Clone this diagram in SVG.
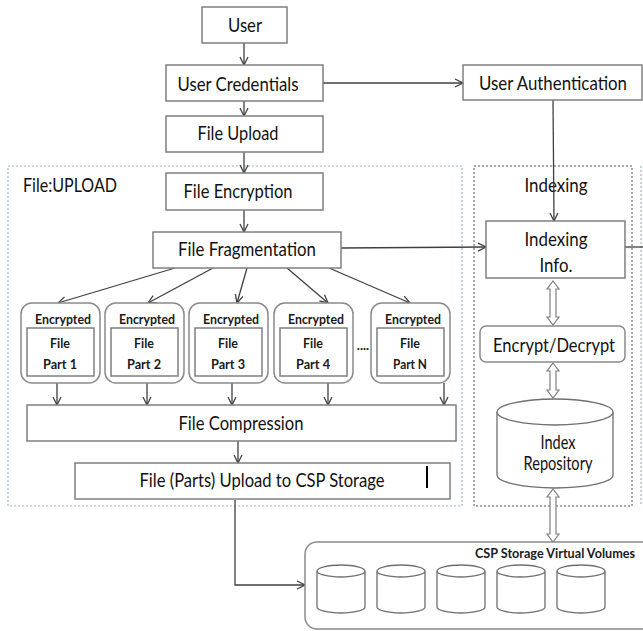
<svg xmlns="http://www.w3.org/2000/svg" width="643" height="631" viewBox="0 0 643 631">
<style>
.box{fill:#fff;stroke:#7f7f7f;stroke-width:1.5}
.rbox{fill:#fff;stroke:#8a8a8a;stroke-width:1.5}
.t{font-family:Lato,"Liberation Sans",sans-serif;font-size:19px;fill:#111;text-anchor:middle}
.tl{font-family:Lato,"Liberation Sans",sans-serif;font-size:19px;fill:#111}
.s{font-family:Lato,"Liberation Sans",sans-serif;font-size:13px;font-weight:bold;fill:#1a1a1a;text-anchor:middle}
.ln{fill:none;stroke:#404040;stroke-width:1.3}
.dbl{fill:#fff;stroke:#7f7f7f;stroke-width:1.2}
.cyl{fill:#fff;stroke:#6f6f6f;stroke-width:1.3}
</style>
<defs>
<marker id="ah" markerWidth="10" markerHeight="10" refX="9" refY="5" orient="auto" markerUnits="userSpaceOnUse">
<path d="M1,1 L9,5 L1,9" fill="none" stroke="#404040" stroke-width="1.3"/>
</marker>
</defs>
<rect width="643" height="631" fill="#fff"/>

<!-- containers -->
<g id="upload-region">
<rect x="8" y="166" width="454" height="340" fill="none" stroke="#9fb4cc" stroke-width="1.2" stroke-dasharray="2,2"/>
<text class="tl" x="23" y="192" textLength="94" lengthAdjust="spacingAndGlyphs">File:UPLOAD</text>
</g>
<g id="indexing-region">
<rect x="474" y="166" width="158" height="340" fill="none" stroke="#555" stroke-width="1" stroke-dasharray="2,2"/>
<line x1="641" y1="166" x2="641" y2="506" stroke="#9fb4cc" stroke-width="1.2" stroke-dasharray="2,2"/>
<text class="t" x="556" y="192" textLength="63" lengthAdjust="spacingAndGlyphs">Indexing</text>
</g>

<!-- connectors -->
<g id="connectors">
<line class="ln" x1="244" y1="43" x2="244" y2="65" marker-end="url(#ah)"/>
<line class="ln" x1="244" y1="101" x2="244" y2="116" marker-end="url(#ah)"/>
<line class="ln" x1="244" y1="152" x2="244" y2="173" marker-end="url(#ah)"/>
<line class="ln" x1="244" y1="210" x2="244" y2="232" marker-end="url(#ah)"/>
<line class="ln" x1="323" y1="83" x2="463" y2="83" marker-end="url(#ah)"/>
<line class="ln" x1="553" y1="100" x2="554" y2="221" marker-end="url(#ah)"/>
<line class="ln" x1="341" y1="248" x2="486" y2="247" marker-end="url(#ah)"/>
<line class="ln" x1="625" y1="247" x2="643" y2="247"/>
<line class="ln" x1="175" y1="268" x2="58" y2="303" marker-end="url(#ah)"/>
<line class="ln" x1="213" y1="268" x2="148" y2="303" marker-end="url(#ah)"/>
<line class="ln" x1="247" y1="268" x2="237" y2="303" marker-end="url(#ah)"/>
<line class="ln" x1="287" y1="268" x2="328" y2="303" marker-end="url(#ah)"/>
<line class="ln" x1="329" y1="268" x2="410" y2="303" marker-end="url(#ah)"/>
<line class="ln" x1="57" y1="383" x2="57" y2="405" marker-end="url(#ah)"/>
<line class="ln" x1="147" y1="383" x2="147" y2="405" marker-end="url(#ah)"/>
<line class="ln" x1="232" y1="383" x2="232" y2="405" marker-end="url(#ah)"/>
<line class="ln" x1="328" y1="383" x2="328" y2="405" marker-end="url(#ah)"/>
<line class="ln" x1="444" y1="383" x2="444" y2="405" marker-end="url(#ah)"/>
<line class="ln" x1="238" y1="441" x2="238" y2="463" marker-end="url(#ah)"/>
<polyline class="ln" points="235,500 235,585 305,585" marker-end="url(#ah)"/>
<polygon class="dbl" points="553,281 559,289 556,289 556,317 559,317 553,325 547,317 550,317 550,289 547,289"/>
<polygon class="dbl" points="553,363 559,371 556,371 556,390 559,390 553,398 547,390 550,390 550,371 547,371"/>
<polygon class="dbl" points="553,489 559,497 556,497 556,534 559,534 553,542 547,534 550,534 550,497 547,497"/>
</g>

<!-- nodes -->
<g id="user">
<rect class="box" x="202" y="7" width="85" height="36"/>
<text class="t" x="245" y="32" textLength="34" lengthAdjust="spacingAndGlyphs">User</text>
</g>
<g id="user-credentials">
<rect class="box" x="166" y="65" width="157" height="36"/>
<text class="t" x="238" y="91" textLength="121" lengthAdjust="spacingAndGlyphs">User Credentials</text>
</g>
<g id="user-authentication">
<rect class="box" x="463" y="65" width="179" height="35"/>
<text class="t" x="553" y="90" textLength="148" lengthAdjust="spacingAndGlyphs">User Authentication</text>
</g>
<g id="file-upload">
<rect class="box" x="166" y="116" width="157" height="36"/>
<text class="t" x="238" y="140" textLength="81" lengthAdjust="spacingAndGlyphs">File Upload</text>
</g>
<g id="file-encryption">
<rect class="box" x="166" y="173" width="157" height="37"/>
<text class="t" x="238" y="198" textLength="109" lengthAdjust="spacingAndGlyphs">File Encryption</text>
</g>
<g id="file-fragmentation">
<rect class="box" x="153" y="232" width="188" height="36"/>
<text class="t" x="247" y="256" textLength="138" lengthAdjust="spacingAndGlyphs">File Fragmentation</text>
</g>
<g id="indexing-info">
<rect class="box" x="486" y="221" width="139" height="57"/>
<text class="t" x="556" y="246" textLength="63" lengthAdjust="spacingAndGlyphs">Indexing</text>
<text class="t" x="556" y="272" textLength="33" lengthAdjust="spacingAndGlyphs">Info.</text>
</g>
<g id="encrypt-decrypt">
<rect class="rbox" x="480" y="326" width="145" height="36" rx="6"/>
<text class="t" x="554" y="352" textLength="122" lengthAdjust="spacingAndGlyphs">Encrypt/Decrypt</text>
</g>
<g id="index-repository">
<path class="cyl" d="M497,412 A58,13 0 0 1 613,412 L613,475 A58,13 0 0 1 497,475 Z"/>
<path class="cyl" d="M497,412 A58,13 0 0 0 613,412"/>
<text class="t" x="558" y="449" font-size="17" textLength="35" lengthAdjust="spacingAndGlyphs">Index</text>
<text class="t" x="558" y="470" font-size="17" textLength="69" lengthAdjust="spacingAndGlyphs">Repository</text>
</g>

<g id="part1">
<rect class="rbox" x="21" y="303" width="79" height="80" rx="11"/>
<rect class="box" x="27" y="328" width="67" height="48"/>
<text class="s" x="63" y="324" textLength="56" lengthAdjust="spacingAndGlyphs">Encrypted</text>
<text class="s" x="60" y="348" textLength="20" lengthAdjust="spacingAndGlyphs">File</text>
<text class="s" x="60" y="369" textLength="34" lengthAdjust="spacingAndGlyphs">Part 1</text>
</g>
<g id="part2">
<rect class="rbox" x="105" y="303" width="79" height="80" rx="11"/>
<rect class="box" x="111" y="328" width="67" height="48"/>
<text class="s" x="147" y="324" textLength="56" lengthAdjust="spacingAndGlyphs">Encrypted</text>
<text class="s" x="144" y="348" textLength="20" lengthAdjust="spacingAndGlyphs">File</text>
<text class="s" x="144" y="369" textLength="34" lengthAdjust="spacingAndGlyphs">Part 2</text>
</g>
<g id="part3">
<rect class="rbox" x="189" y="303" width="79" height="80" rx="11"/>
<rect class="box" x="195" y="328" width="67" height="48"/>
<text class="s" x="231" y="324" textLength="56" lengthAdjust="spacingAndGlyphs">Encrypted</text>
<text class="s" x="228" y="348" textLength="20" lengthAdjust="spacingAndGlyphs">File</text>
<text class="s" x="228" y="369" textLength="34" lengthAdjust="spacingAndGlyphs">Part 3</text>
</g>
<g id="part4">
<rect class="rbox" x="274" y="303" width="79" height="80" rx="11"/>
<rect class="box" x="280" y="328" width="67" height="48"/>
<text class="s" x="316" y="324" textLength="56" lengthAdjust="spacingAndGlyphs">Encrypted</text>
<text class="s" x="313" y="348" textLength="20" lengthAdjust="spacingAndGlyphs">File</text>
<text class="s" x="313" y="369" textLength="34" lengthAdjust="spacingAndGlyphs">Part 4</text>
</g>
<g id="ellipsis">
<text class="s" x="363" y="350">....</text>
</g>
<g id="partN">
<rect class="rbox" x="371" y="303" width="79" height="80" rx="11"/>
<rect class="box" x="377" y="328" width="67" height="48"/>
<text class="s" x="413" y="324" textLength="56" lengthAdjust="spacingAndGlyphs">Encrypted</text>
<text class="s" x="410" y="348" textLength="20" lengthAdjust="spacingAndGlyphs">File</text>
<text class="s" x="410" y="369" textLength="34" lengthAdjust="spacingAndGlyphs">Part N</text>
</g>

<g id="file-compression">
<rect class="box" x="27" y="405" width="429" height="36"/>
<text class="t" x="241" y="430" textLength="125" lengthAdjust="spacingAndGlyphs">File Compression</text>
</g>
<g id="parts-upload">
<rect class="box" x="75" y="463" width="375" height="36"/>
<text class="t" x="262" y="487" textLength="245" lengthAdjust="spacingAndGlyphs">File (Parts) Upload to CSP Storage</text>
<line x1="427" y1="466" x2="427" y2="488" stroke="#000" stroke-width="2"/>
</g>

<g id="csp-storage">
<rect class="rbox" x="305" y="542" width="360" height="87" rx="12"/>
<text class="s" x="555" y="558" font-size="12" textLength="160" lengthAdjust="spacingAndGlyphs">CSP Storage Virtual Volumes</text>
<g id="vol1"><path class="cyl" d="M317,571 A24,6 0 0 1 365,571 L365,607 A24,6 0 0 1 317,607 Z M317,571 A24,6 0 0 0 365,571"/></g>
<g id="vol2"><path class="cyl" d="M377,571 A24,6 0 0 1 425,571 L425,607 A24,6 0 0 1 377,607 Z M377,571 A24,6 0 0 0 425,571"/></g>
<g id="vol3"><path class="cyl" d="M437,571 A24,6 0 0 1 485,571 L485,607 A24,6 0 0 1 437,607 Z M437,571 A24,6 0 0 0 485,571"/></g>
<g id="vol4"><path class="cyl" d="M497,571 A24,6 0 0 1 545,571 L545,607 A24,6 0 0 1 497,607 Z M497,571 A24,6 0 0 0 545,571"/></g>
<g id="vol5"><path class="cyl" d="M557,571 A24,6 0 0 1 605,571 L605,607 A24,6 0 0 1 557,607 Z M557,571 A24,6 0 0 0 605,571"/></g>
</g>
</svg>
